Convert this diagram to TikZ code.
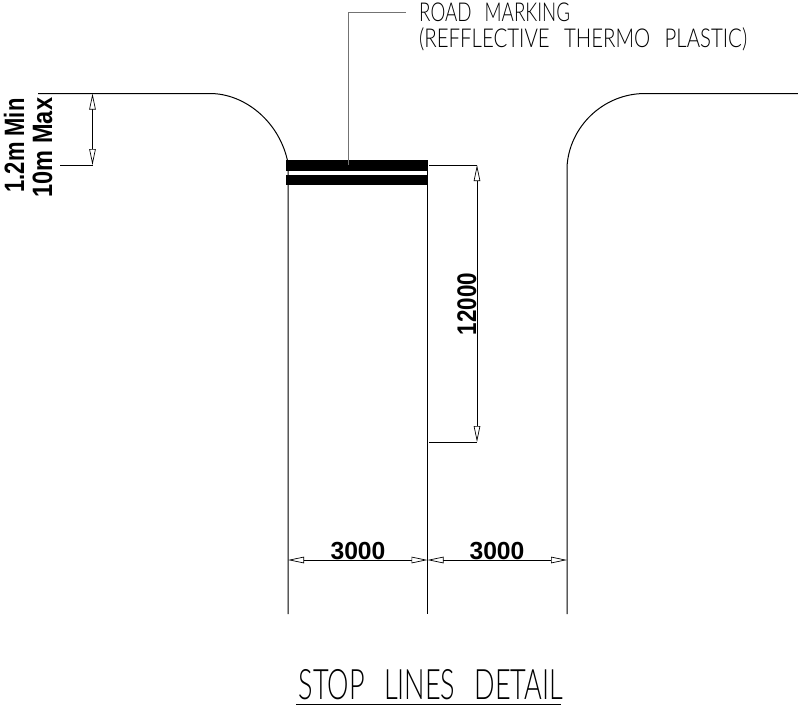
\documentclass[tikz,border=0pt]{standalone}
\usepackage{fontspec}
\usetikzlibrary{arrows.meta}
\setmainfont{Liberation Sans}
\newfontfamily\dimfont{Liberation Sans Bold}
\newfontfamily\thinfont[FakeStretch=0.72,WordSpace=2.6]{Lato Light}
\tikzset{
  x=1pt,y=-1pt,
  line/.style={line width=1pt,black},
  leader/.style={line width=1pt,black!55},
  bar/.style={fill=black,draw=none},
  tip/.tip={Triangle[open,fill=white,length=16pt,width=6.5pt,line width=.7pt]},
  dimen/.style={line width=1pt,black,tip-tip},
  dimtext/.style={inner sep=0pt,font=\dimfont\fontsize{24.7}{26}\selectfont},
  thintext/.style={inner sep=0pt,anchor=base west,font=\thinfont\fontsize{26}{28}\selectfont},
}
\begin{document}
\begin{tikzpicture}
\useasboundingbox (0,0) rectangle (798,705);
% reference points
\coordinate (LT0) at (38,93.5);
\coordinate (LT1) at (210,93.5);
\coordinate (LC) at (288,163);
\coordinate (LB) at (288,614);
\coordinate (MT) at (427.5,165);
\coordinate (MB) at (427.5,614);
\coordinate (RC) at (567,167);
\coordinate (RB) at (567,614);
\coordinate (RT1) at (645,93.5);
\coordinate (RT0) at (798,93.5);
% road edges
\draw[line] (LT0) -- (LT1) .. controls (245,93.5) and (280,122) .. (LC) -- (LB);
\draw[line] (MT) -- (MB);
\draw[line] (RB) -- (RC) .. controls (569,127) and (603,93.5) .. (RT1) -- (RT0);
% stop bars
\node[bar,minimum width=142pt,minimum height=11pt,inner sep=0pt,anchor=north west] (barA) at (286,160) {};
\node[bar,minimum width=142pt,minimum height=10pt,inner sep=0pt,anchor=north west] (barB) at (286,175) {};
% leader
\coordinate (LD0) at (348.5,165);
\coordinate (LD1) at (348.5,12.5);
\coordinate (LD2) at (406,12.5);
\draw[leader] (LD0) -- (LD1) -- (LD2);
\node[thintext] (mark1) at (419,21) {ROAD MARKING};
\node[thintext] (mark2) at (419,47.5) {\scalebox{1.09}[1]{(REFFLECTIVE THERMO PLASTIC)}};
% 1.2m dimension
\coordinate (A0) at (60,165);
\coordinate (A1) at (92.5,165);
\coordinate (A2) at (92.5,93.5);
\draw[line] (A0) -- (A1);
\draw[dimen] (A2) -- (A1);
\node[dimtext,rotate=90,anchor=base] (t1) at (24,145.5) {\fontsize{28}{30}\selectfont\scalebox{.785}[1]{1.2m Min}};
\node[dimtext,rotate=90,anchor=base] (t2) at (52,147.5) {\fontsize{28}{30}\selectfont\scalebox{.84}[1]{10m Max}};
% 12000 dimension
\coordinate (B0) at (429,165);
\coordinate (B1) at (477,165);
\coordinate (B2) at (429,442);
\coordinate (B3) at (477,442);
\draw[line] (B0) -- (B1);
\draw[line] (B2) -- (B3);
\draw[dimen] (B1) -- (B3);
\node[dimtext,rotate=90,anchor=base] (t3) at (476,304) {\fontsize{27}{29}\selectfont\scalebox{.83}[1]{12000}};
% 3000 dimensions
\coordinate (C0) at (288,560);
\coordinate (C1) at (427.5,560);
\coordinate (C2) at (567,560);
\draw[dimen] (C0) -- (C1);
\draw[dimen] (C1) -- (C2);
\node[dimtext,anchor=base] (t4) at (358,559) {3000};
\node[dimtext,anchor=base] (t5) at (497,559) {3000};
% title
\node[thintext,anchor=base] (title) at (431,699.5) {\fontsize{42}{44}\selectfont\scalebox{.895}[1]{STOP LINES DETAIL}};
\coordinate (U0) at (296,704);
\coordinate (U1) at (561,704);
\draw[line] (U0) -- (U1);
\end{tikzpicture}
\end{document}
